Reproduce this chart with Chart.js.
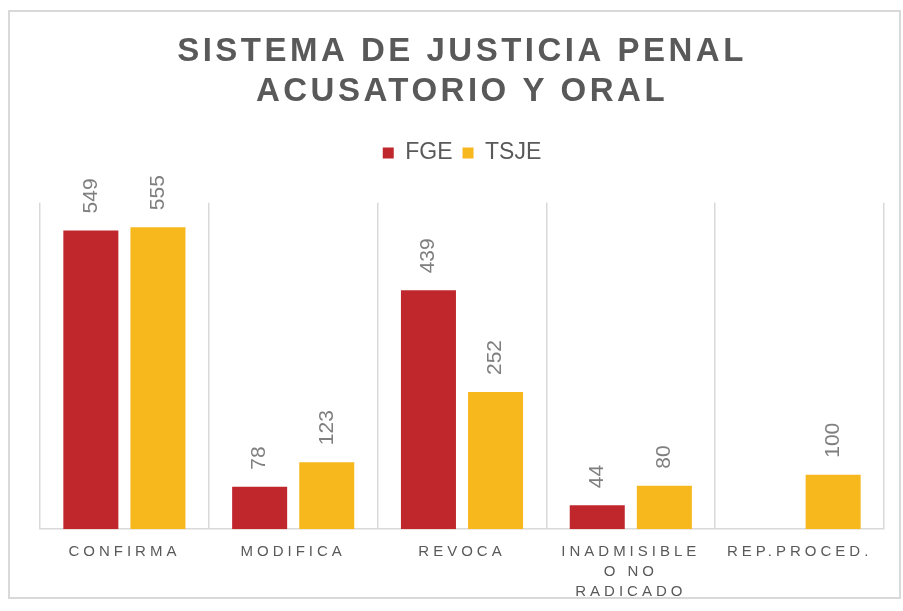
<!DOCTYPE html>
<html>
<head>
<meta charset="utf-8">
<script src="https://cdn.jsdelivr.net/npm/chart.js@4/dist/chart.umd.min.js"></script>
<style>
  html, body { margin: 0; background: #fff; }
  #frame { position: absolute; left: 8px; top: 10px; width: 893px; height: 589px;
           border: 2px solid #d9d9d9; box-sizing: border-box; }
  #wrap { position: absolute; left: 0; top: 0; width: 903px; height: 611px; }
</style>
</head>
<body>
<div id="frame"></div>
<div id="wrap"><canvas id="chart"></canvas></div>
<script>
const categories = ['CONFIRMA', 'MODIFICA', 'REVOCA', ['INADMISIBLE', 'O NO', 'RADICADO'], 'REP.PROCED.'];
const fge = [549, 78, 439, 44, null];
const tsje = [555, 123, 252, 80, 100];

const red = '#c0272d';
const gold = '#f6b81d';
const grey = '#595959';

// rotated value labels above each bar, then spaced-out letters for the axis labels
const valueLabels = {
  id: 'valueLabels',
  beforeDraw(chart) {
    const tb = chart.titleBlock;
    if (tb && !tb._spaced) {
      const draw = tb.draw.bind(tb);
      tb.draw = () => {
        chart.ctx.save();
        chart.ctx.letterSpacing = '3.5px';
        draw();
        chart.ctx.restore();
      };
      tb._spaced = true;
    }
  },
  afterDatasetsDraw(chart) {
    const ctx = chart.ctx;
    chart.data.datasets.forEach((ds, i) => {
      chart.getDatasetMeta(i).data.forEach((bar, j) => {
        if (ds.data[j] == null) return;
        ctx.save();
        ctx.translate(bar.x, bar.y - 17);
        ctx.rotate(-Math.PI / 2);
        ctx.font = '21px "Liberation Sans", Arial, sans-serif';
        ctx.fillStyle = '#7f7f7f';
        ctx.textAlign = 'left';
        ctx.textBaseline = 'middle';
        ctx.fillText(ds.data[j], 0, 0);
        ctx.restore();
      });
    });
    ctx.letterSpacing = '4px';
  },
  afterDraw(chart) {
    chart.ctx.letterSpacing = '0px';
  }
};

new Chart(document.getElementById('chart'), {
  type: 'bar',
  data: {
    labels: categories,
    datasets: [
      { label: 'FGE', data: fge, backgroundColor: red },
      { label: 'TSJE', data: tsje, backgroundColor: gold }
    ]
  },
  options: {
    responsive: true,
    maintainAspectRatio: false,
    animation: false,
    categoryPercentage: 0.795,
    barPercentage: 0.82,
    layout: { padding: { left: 40, right: 19, bottom: -4 } },
    plugins: {
      title: {
        display: true,
        text: ['SISTEMA DE JUSTICIA PENAL', 'ACUSATORIO Y ORAL'],
        color: grey,
        font: { family: '"Liberation Sans", Arial, sans-serif', size: 33, weight: 'bold', lineHeight: 1.22 },
        padding: { top: 32, bottom: 19 }
      },
      legend: {
        labels: {
          color: grey,
          boxWidth: 11,
          boxHeight: 11,
          padding: 10,
          font: { family: '"Liberation Sans", Arial, sans-serif', size: 23 }
        }
      },
      subtitle: {
        display: true,
        text: ' ',
        weight: 500,
        font: { size: 1 },
        padding: { top: 0, bottom: 27 }
      },
      tooltip: { enabled: false }
    },
    scales: {
      x: {
        grid: { color: '#d9d9d9', lineWidth: 1.5, drawTicks: false },
        border: { color: '#d9d9d9', width: 1.5 },
        ticks: {
          z: 1,
          color: grey,
          padding: 13,
          maxRotation: 0,
          autoSkip: false,
          font: { family: '"Liberation Sans", Arial, sans-serif', size: 15, lineHeight: 1.33 }
        }
      },
      y: {
        display: false,
        min: 0,
        max: 600
      }
    }
  },
  plugins: [valueLabels]
});
</script>
</body>
</html>
